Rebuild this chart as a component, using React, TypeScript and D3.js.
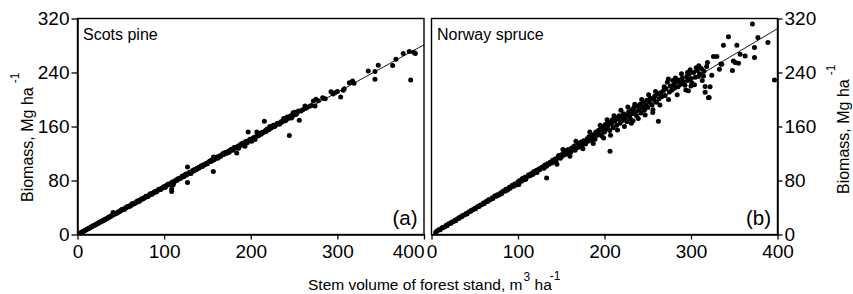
import React, { useEffect, useRef } from 'react';
import * as d3 from 'd3';

// axis ticks shared by both panels
const xTicks = [0, 100, 200, 300, 400];
const yTicks = [0, 80, 160, 240, 320];

// Scots pine: stem volume (m3/ha), biomass (Mg/ha)
const pinePoints: [number, number][] = [
  [4, 3], [5, 3.4], [6, 4.3], [7, 4.8], [8, 5.7], [9, 6.2], [10, 7.1], [11, 7.6], [12, 8.5], [13, 9.0],
  [14, 9.9], [15, 10.4], [16, 11.3], [17, 11.8], [18, 12.8], [19, 13.2], [20, 14.1], [21, 14.6], [22, 15.6],
  [23, 16.0], [24, 17.0], [25, 17.4], [26, 18.4], [27, 18.8], [28, 19.8], [29, 20.3], [30, 21.1], [31, 21.6],
  [32, 22.6], [33, 23.0], [34, 24.1], [35, 24.5], [36, 25.4], [37, 26.0], [38, 26.8], [39, 27.3], [40, 28.4],
  [41, 32.5], [42, 29.6], [43, 30.3], [44, 31.2], [45, 31.6], [46, 32.6], [47, 33.1], [48, 34.0], [49, 34.4],
  [50, 35.5], [52, 36.6], [53, 37.6], [55, 38.6], [56, 39.8], [58, 40.7], [59, 41.7], [61, 43.0], [62, 43.4],
  [64, 45.2], [65, 45.6], [67, 47.3], [68, 47.8], [70, 49.6], [72, 50.4], [73, 51.8], [75, 52.6], [77, 54.5],
  [78, 54.8], [80, 56.6], [82, 57.4], [83, 58.9], [85, 59.5], [87, 61.4], [88, 61.9], [90, 63.5], [92, 64.4],
  [93, 66.0], [95, 66.6], [97, 68.5], [98, 68.9], [100, 70.6], [102, 71.3], [104, 73.4], [105, 74.8], [107, 75.0],
  [108.7, 67.3], [108.7, 63.7], [110.5, 73.8], [110, 77.8], [112, 78.5], [114, 80.8], [115, 80.3], [117, 82.6],
  [119, 83.4], [120, 85.0], [122, 85.4], [124, 88.1], [126, 88.0], [127, 77.1], [127, 100], [128, 90.5],
  [130, 91.0], [132, 93.4], [134, 94.0], [135, 96.2], [137, 96.0], [139, 98.5], [140, 98.1], [142, 100.7],
  [144, 100.9], [145, 103.0], [147, 103.4], [149, 105.5], [150, 104.8], [152, 107.6], [154, 108.2], [155, 110.5],
  [156.8, 93.5], [157, 115], [158, 111.0], [160, 113.4], [162, 113.0], [164, 116.2], [165, 115.7], [167, 118.3],
  [169, 118.5], [170, 121.0], [172, 120.4], [174, 123.3], [175, 122.0], [177, 125.6], [179, 124.7], [180, 127.8],
  [182, 128.0], [183.8, 120.8], [185, 130.6], [186, 127.9], [188, 133.0], [190, 132.2], [191, 135.6],
  [193.4, 130.7], [195, 137.8], [196, 136.0], [197, 152], [198, 139.4], [200, 140.5], [201, 138.0], [203, 143.5],
  [204.9, 140.6], [206, 145.0], [207, 152], [209, 146.4], [210, 149.0], [212, 148.5], [214, 150.8], [215.7, 167.9],
  [216, 152.5], [218, 153.0], [219, 156.4], [221, 155.2], [222, 160.0], [224, 158.5], [226, 162.0], [228, 160.6],
  [230, 163.2], [232, 164.5], [234, 165.0], [236, 166.8], [238, 171.8], [239, 168.6], [241, 170.0], [242, 174.2],
  [244, 173.0], [244.5, 146.6], [246, 176.0], [247, 172.5], [249, 180.4], [250, 178.2], [252, 177.6],
  [254.9, 182.8], [256, 169.4], [260, 185.0], [262.6, 190.2], [265, 188.0], [272.2, 197.6], [274.2, 190.2],
  [275.3, 200.2], [283, 202.7], [292.6, 211.6], [297.2, 210], [303.8, 203.6], [306.8, 213.6], [308, 216.0],
  [313.8, 225], [317.6, 227.4], [319.2, 224], [335.7, 242.3], [343.4, 241.4], [343.4, 230], [347.2, 250.8],
  [363.8, 250.3], [367.6, 259.7], [376, 268], [383, 271], [384.6, 228.9], [388, 270], [390, 268],
  [51, 37.2], [54, 37.0], [57, 41.2], [60, 41.5], [63, 45.5], [66, 45.8], [69, 49.5], [71, 49.0], [74, 53.0],
  [76, 52.8], [79, 56.5], [81, 56.0], [84, 60.2], [86, 59.5], [89, 63.5], [91, 63.0], [94, 67.0], [96, 66.5],
  [99, 70.5], [101, 69.8], [103, 73.5], [106, 74.0], [109, 77.5], [111, 76.5], [113, 80.0], [116, 82.5],
  [118, 83.0], [121, 86.5], [123, 86.0], [125, 89.5], [129, 92.0], [131, 90.5], [133, 95.0], [136, 95.5],
  [138, 98.0], [141, 99.5], [143, 102.0], [146, 103.0], [148, 105.0], [151, 107.0], [153, 109.0], [156, 109.5],
  [159, 113.5], [161, 115.0], [163, 114.5], [166, 117.5], [168, 120.0], [171, 121.5], [173, 121.0], [176, 124.5],
  [178, 126.0], [181, 129.0], [184, 128.5], [187, 132.0], [189, 134.0], [192, 134.5], [194, 137.5], [199, 141.0],
  [202, 142.0], [205, 144.0], [208, 147.5], [211, 150.0], [213, 151.0], [217, 154.0], [220, 156.0], [223, 157.5],
  [225, 160.0], [227, 159.5], [229, 162.5], [231, 165.0], [233, 163.5], [235, 167.0], [237, 168.0], [240, 168.5],
  [243, 172.0], [245, 174.0], [248, 175.0], [251, 181.0], [253, 179.0], [258, 183.0], [263, 186.5], [268, 190.0],
  [270, 191.0], [278, 198.0], [286, 201.0], [295, 208.0], [300, 212.0],
];

// Norway spruce
const sprucePoints: [number, number][] = [
  [5, 3.5], [6, 5.0], [8, 6.5], [9, 7.2], [10, 7.0], [12, 9.5], [13, 10.2], [15, 11.0], [17, 13.6], [18, 13.0],
  [20, 16.0], [22, 16.4], [23, 18.0], [25, 19.0], [27, 21.0], [28, 20.5], [30, 23.5], [32, 24.0], [33, 26.0],
  [35, 26.2], [36, 28.0], [38, 29.0], [40, 31.0], [41, 30.5], [43, 33.5], [45, 34.0], [46, 36.0], [48, 36.5],
  [50, 39.0], [51, 38.0], [53, 41.0], [55, 41.5], [56, 43.5], [58, 44.0], [60, 46.5], [61, 45.8], [63, 49.0],
  [65, 49.0], [66, 51.5], [68, 51.5], [70, 54.0], [71, 53.5], [73, 57.0], [75, 56.5], [76, 59.0], [78, 58.5],
  [80, 62.0], [81, 60.5], [83, 64.5], [85, 64.0], [86, 67.0], [88, 66.0], [90, 70.0], [91, 68.5], [93, 72.5],
  [95, 71.5], [96, 75.0], [98, 73.5],
  [100, 78], [101, 74], [102, 80], [104, 79], [105, 83], [107, 81], [108, 85], [109, 82], [111, 86], [112, 88],
  [114, 87], [115, 90], [117, 89], [118, 93], [119, 91], [121, 95], [122, 92], [124, 97], [125, 96], [127, 99],
  [128, 100], [130, 98], [131, 103], [133, 101], [133.1, 83.6], [134, 105], [136, 104], [137, 107], [139, 106],
  [140, 110], [141, 108], [143, 112], [144, 109], [146, 114], [147, 117], [149, 113], [150, 118], [151, 116],
  [153, 121], [154, 118], [155, 124], [157, 120], [158, 126], [159, 123], [161, 122], [162, 128], [164, 126],
  [165, 131], [166, 125], [168, 132], [169, 129], [170, 135], [172, 130], [173, 137], [174, 133], [176, 139],
  [177, 136], [178, 134], [180, 142], [181, 138], [182, 145], [184, 140], [185, 146], [186, 143], [188, 148],
  [189, 141], [190, 152], [192, 147], [193, 154], [194, 150], [196, 157], [197, 146], [198, 155], [199, 160],
  [200, 152], [201, 163], [202, 157], [204, 161], [205, 166], [206, 154], [206.4, 123.3], [208, 164], [209, 170],
  [210, 158], [212, 168], [213, 173], [214, 162], [216, 171], [217, 176], [218, 165], [220, 174], [221, 169],
  [222, 179], [224, 172], [225, 177], [226, 167], [228, 182], [229, 176], [230, 171], [232, 185], [233, 179],
  [233, 168.5], [234, 188], [236, 182], [237, 176], [238, 190], [240, 185], [241, 193], [242, 180], [244, 189],
  [245, 196], [246, 184], [248, 192], [249, 199], [250, 188], [252, 196], [253, 202], [255, 192], [255.8, 180.8],
  [257, 200], [258, 205], [260, 196], [262, 208], [262.3, 167.9], [263, 201], [265, 210], [266, 204], [268, 213],
  [270, 206], [271, 216], [272.7, 225.5], [273.8, 230.4], [275, 211], [276, 220], [278, 214], [280, 222],
  [281, 217], [283, 226], [285, 219], [286, 229], [288, 223], [290, 232], [291, 226], [293, 221], [295, 234],
  [296, 228], [297, 213.1], [298, 238], [300, 231], [301, 225], [303, 240], [305, 233], [307, 243], [308.6, 234],
  [310, 238], [312, 246], [314.4, 234.9], [315, 242], [316.3, 210.6], [316.3, 219.1], [318, 249],
  [320.2, 202.7], [321, 203.1], [322.1, 219], [326, 263.7], [329.9, 263.7], [332.9, 244.8], [334.5, 252.7],
  [335.6, 252.3], [337.5, 280.5], [343.3, 292.9], [347.9, 242.9], [349, 257.2], [351, 254.8], [353, 280.5],
  [354.9, 253.8], [356.8, 267], [362.6, 264.6], [371, 311.8], [373.4, 277], [373.4, 262.2], [377.3, 292],
  [388.9, 284.5], [396.5, 228.9],
  [145, 104], [152, 126], [160, 116], [167, 138], [175, 127], [183, 152], [187, 135], [195, 162], [199, 143],
  [203, 170], [207, 147], [211, 176], [215, 155], [219, 184], [223, 160], [227, 189], [231, 165], [235, 193],
  [239, 172], [243, 200], [247, 177], [251, 207], [256, 185], [259, 212], [264, 192], [269, 219], [274, 200],
  [279, 228], [284, 207], [289, 238], [294, 214], [299, 244], [304, 222], [309, 250], [313, 228], [319, 255],
  [324, 236], [282, 232], [296, 240], [306, 247], [300, 220],
];

// fitted lines (end points)
const pineFit: [number, number][] = [[0, 0], [400, 281]];
const spruceFit: [number, number][] = [[0, -1], [400, 305]];

const panelNames = ['Scots pine', 'Norway spruce'];
const panelTags = ['(a)', '(b)'];

const FONT = 'Arial, "Liberation Sans", sans-serif';

const App: React.FC = () => {
  const svgRef = useRef<SVGSVGElement>(null);

  useEffect(() => {
    if (!svgRef.current) return;
    const svg = d3.select(svgRef.current);
    svg.selectAll('*').remove();

    const top = 18.5;
    const bottom = 234.5;
    const panels = [
      { left: 77.5, right: 424, points: pinePoints, fit: pineFit, axisSide: 'left' },
      { left: 431.5, right: 777.5, points: sprucePoints, fit: spruceFit, axisSide: 'right' },
    ];

    panels.forEach((p, i) => {
      const x = d3.scaleLinear().domain([0, 400]).range([p.left, p.right]);
      const y = d3.scaleLinear().domain([0, 320]).range([bottom, top]);
      const g = svg.append('g');

      // frame
      g.append('rect')
        .attr('x', p.left)
        .attr('y', top)
        .attr('width', p.right - p.left)
        .attr('height', bottom - top)
        .attr('fill', 'none')
        .attr('stroke', '#000')
        .attr('stroke-width', 1.4);

      // fitted line
      g.append('path')
        .attr('d', d3.line<[number, number]>().x(d => x(d[0])).y(d => y(d[1]))(p.fit) || '')
        .attr('fill', 'none')
        .attr('stroke', '#000')
        .attr('stroke-width', 0.9);

      // points
      g.selectAll('circle.pt')
        .data(p.points)
        .enter()
        .append('circle')
        .attr('class', 'pt')
        .attr('cx', d => x(d[0]))
        .attr('cy', d => y(d[1]))
        .attr('r', 2.5)
        .attr('fill', '#000');

      // x axis
      const xa = g.append('g')
        .attr('transform', `translate(0,${bottom})`)
        .call(d3.axisBottom(x).tickValues(xTicks).tickSize(5).tickSizeOuter(0).tickPadding(5));

      // left panel's "400" sits left of its tick so it clears the next panel's "0"
      if (i === 0) {
        xa.selectAll<SVGTextElement, number>('.tick text')
          .filter(d => d === 400)
          .attr('text-anchor', 'end')
          .attr('x', 0);
      }

      // y axis
      const ya = g.append('g');
      if (p.axisSide === 'left') {
        ya.attr('transform', `translate(${p.left},0)`)
          .call(d3.axisLeft(y).tickValues(yTicks).tickSize(6).tickSizeOuter(0).tickPadding(2));
      } else {
        ya.attr('transform', `translate(${p.right},0)`)
          .call(d3.axisRight(y).tickValues(yTicks).tickSize(5).tickSizeOuter(0).tickPadding(2));
      }

      [xa, ya].forEach(a => {
        a.attr('font-family', FONT).attr('font-size', 19);
        a.select('.domain').attr('stroke', '#000').attr('stroke-width', 1.5);
        a.selectAll('.tick line').attr('stroke', '#000').attr('stroke-width', 1.3);
        a.selectAll('.tick text').attr('fill', '#000');
      });

      // panel name and tag
      g.append('text')
        .attr('x', p.left + 5.5)
        .attr('y', 40)
        .attr('font-family', FONT)
        .attr('font-size', 16)
        .text(panelNames[i]);
      g.append('text')
        .attr('x', p.right - 6.5)
        .attr('y', 225)
        .attr('text-anchor', 'end')
        .attr('font-family', FONT)
        .attr('font-size', 20.5)
        .text(panelTags[i]);
    });

    // y titles
    const yTitle = (tx: number, ty: number) => {
      const t = svg.append('text')
        .attr('transform', `translate(${tx},${ty}) rotate(-90)`)
        .attr('font-family', FONT)
        .attr('font-size', 16)
        .attr('fill', '#000');
      t.append('tspan').text('Biomass, Mg ha');
      t.append('tspan').attr('dx', 4).attr('dy', -14).attr('font-size', 12).text('-1');
    };
    yTitle(33, 202);
    yTitle(849, 194);

    // x title
    const xt = svg.append('text')
      .attr('x', 308)
      .attr('y', 290)
      .attr('font-family', FONT)
      .attr('font-size', 15.5)
      .attr('fill', '#000');
    xt.append('tspan').text('Stem volume of forest stand, m');
    xt.append('tspan').attr('dy', -9).attr('dx', 1).attr('font-size', 12).text('3');
    xt.append('tspan').attr('dy', 9).text(' ha');
    xt.append('tspan').attr('dy', -10).attr('dx', -2).attr('font-size', 12).text('-1');
  }, []);

  return (
    <svg
      ref={svgRef}
      width={853}
      height={294}
      style={{ position: 'absolute', left: 0, top: 0, background: '#fff' }}
    />
  );
};

export default App;
